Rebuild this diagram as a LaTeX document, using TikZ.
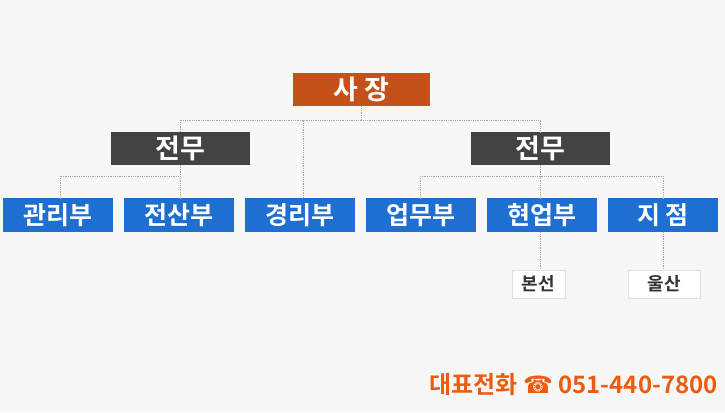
\documentclass[tikz,border=0pt]{standalone}
\usepackage{fontspec}
\newfontfamily\krfont{Noto Sans CJK KR Bold}
\newfontfamily\djfont{DejaVu Sans}
\definecolor{bg}{HTML}{F7F7F7}
\definecolor{blu}{HTML}{1F6FD2}
\definecolor{drk}{HTML}{434343}
\definecolor{org}{HTML}{C4501A}
\definecolor{ph}{HTML}{EE5A0E}
\tikzset{
 box/.style={minimum height=33pt,inner sep=0pt,text=white,font=\krfont\fontsize{27}{27}\selectfont},
 dept/.style={box,fill=blu,minimum width=110pt,minimum height=34pt,font=\krfont\fontsize{25}{25}\selectfont},
 exec/.style={box,fill=drk,minimum width=139pt},
 small/.style={draw=black!12,fill=white,minimum height=28pt,inner sep=0pt,font=\krfont\fontsize{18}{18}\selectfont,text=black!80},
 con/.style={gray!70,densely dotted,line width=0.8pt}
}
\begin{document}
\begin{tikzpicture}[x=1pt,y=-1pt]
\fill[bg] (0,0) rectangle (725,412);
\useasboundingbox (0,0) rectangle (725,412);
\node[box,fill=org,minimum width=137pt] (ceo) at (361.5,89.5) {사 장};
\node[exec] (e1) at (180.5,148.5) {전무};
\node[exec] (e2) at (540.5,148.5) {전무};
\node[dept] (d1) at (58,215) {관리부};
\node[dept] (d2) at (179,215) {전산부};
\node[dept] (d3) at (300,215) {경리부};
\node[dept] (d4) at (421,215) {업무부};
\node[dept] (d5) at (542,215) {현업부};
\node[dept] (d6) at (663,215) {지 점};
\node[small,minimum width=53pt] (s1) at (538.5,284) {본선};
\node[small,minimum width=72pt] (s2) at (664,284) {울산};
\coordinate (j0) at (361.5,120);
\draw[con] (ceo.south) -- (j0);
\draw[con] (e1.north) -- (e1.north|-j0) -- (e2.north|-j0) -- (e2.north);
\draw[con] (d3.north-|303,0) -- (303,120);
\draw[con] (e1.south) -- (180.5,176) -- (d2.north-|180.5,0);
\draw[con] (180.5,176) -- (60,176) -- (d1.north-|60,0);
\draw[con] (e2.south) -- (540.5,176) -- (d5.north-|540.5,0);
\draw[con] (420,176) -- (663,176) -- (d6.north);
\draw[con] (420,176) -- (d4.north-|420,0);
\draw[con] (d5.south-|540.5,0) -- (s1.north-|540.5,0);
\draw[con] (d6.south) -- (s2.north-|663,0);
\node[anchor=base east,text=ph,inner sep=0pt,font=\krfont\fontsize{24}{24}\selectfont] (ph) at (718,393) {대표전화 {\djfont ☎} 051-440-7800};
\end{tikzpicture}
\end{document}
